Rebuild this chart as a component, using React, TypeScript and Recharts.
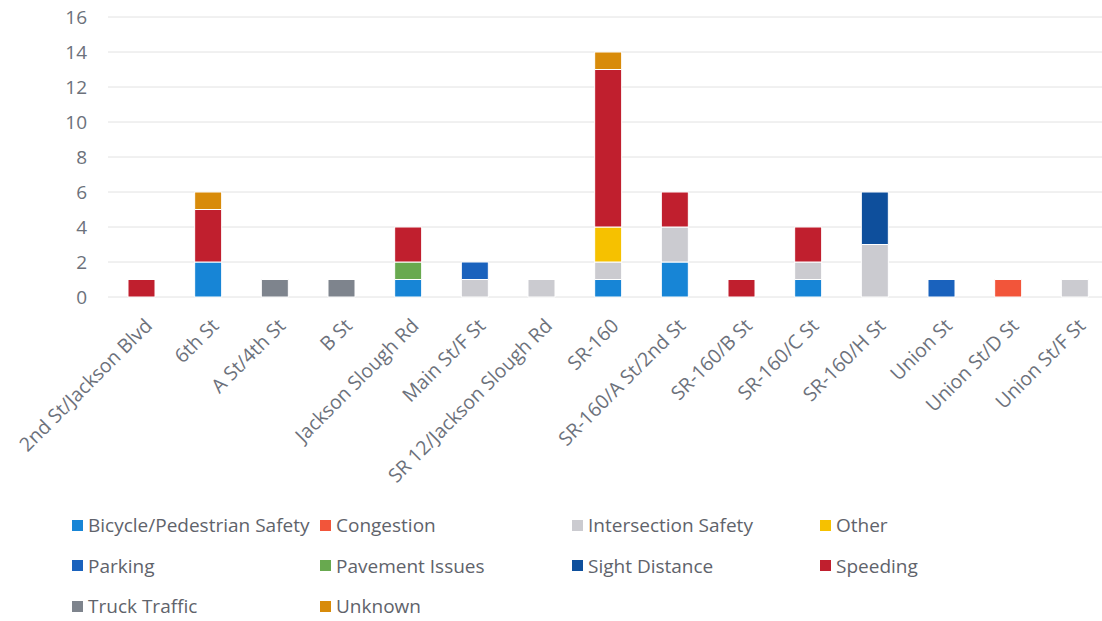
import { BarChart, Bar, XAxis, YAxis, CartesianGrid, Legend } from 'recharts';

const CATEGORIES = [
  '2nd St/Jackson Blvd',
  '6th St',
  'A St/4th St',
  'B St',
  'Jackson Slough Rd',
  'Main St/F St',
  'SR 12/Jackson Slough Rd',
  'SR-160',
  'SR-160/A St/2nd St',
  'SR-160/B St',
  'SR-160/C St',
  'SR-160/H St',
  'Union St',
  'Union St/D St',
  'Union St/F St',
];

const BIKE_PED = [0, 2, 0, 0, 1, 0, 0, 1, 2, 0, 1, 0, 0, 0, 0];
const CONGESTION = [0, 0, 0, 0, 0, 0, 0, 0, 0, 0, 0, 0, 0, 1, 0];
const INTERSECTION = [0, 0, 0, 0, 0, 1, 1, 1, 2, 0, 1, 3, 0, 0, 1];
const OTHER = [0, 0, 0, 0, 0, 0, 0, 2, 0, 0, 0, 0, 0, 0, 0];
const PARKING = [0, 0, 0, 0, 0, 1, 0, 0, 0, 0, 0, 0, 1, 0, 0];
const PAVEMENT = [0, 0, 0, 0, 1, 0, 0, 0, 0, 0, 0, 0, 0, 0, 0];
const SIGHT = [0, 0, 0, 0, 0, 0, 0, 0, 0, 0, 0, 3, 0, 0, 0];
const SPEEDING = [1, 3, 0, 0, 2, 0, 0, 9, 2, 1, 2, 0, 0, 0, 0];
const TRUCK = [0, 0, 1, 1, 0, 0, 0, 0, 0, 0, 0, 0, 0, 0, 0];
const UNKNOWN = [0, 1, 0, 0, 0, 0, 0, 1, 0, 0, 0, 0, 0, 0, 0];

const Y_TICKS = [0, 2, 4, 6, 8, 10, 12, 14, 16];

const SERIES = [
  { key: 'bike', name: 'Bicycle/Pedestrian Safety', values: BIKE_PED, color: '#1785d6' },
  { key: 'congestion', name: 'Congestion', values: CONGESTION, color: '#f2553a' },
  { key: 'intersection', name: 'Intersection Safety', values: INTERSECTION, color: '#cbcbd0' },
  { key: 'other', name: 'Other', values: OTHER, color: '#f6c100' },
  { key: 'parking', name: 'Parking', values: PARKING, color: '#1a62bd' },
  { key: 'pavement', name: 'Pavement Issues', values: PAVEMENT, color: '#68a94f' },
  { key: 'sight', name: 'Sight Distance', values: SIGHT, color: '#0e4f9c' },
  { key: 'speeding', name: 'Speeding', values: SPEEDING, color: '#c01f2e' },
  { key: 'truck', name: 'Truck Traffic', values: TRUCK, color: '#7e848d' },
  { key: 'unknown', name: 'Unknown', values: UNKNOWN, color: '#d88b0a' },
];

const data = CATEGORIES.map((name, i) => {
  const row: Record<string, string | number> = { name };
  SERIES.forEach((s) => {
    row[s.key] = s.values[i];
  });
  return row;
});

const FONT = '"Open Sans", sans-serif';

function XTick({ x, y, payload }: { x: number; y: number; payload: { value: string } }) {
  return (
    <g transform={`translate(${x + 12},${y + 30})`}>
      <text textAnchor="end" transform="rotate(-45)" fontSize={19.5} fill="#6c717b" fontFamily={FONT}>
        {payload.value}
      </text>
    </g>
  );
}

// legend: 4 columns (x of the square), rows ~40.5px apart
const LEGEND_COLS = [72, 320, 572, 820];
const LEGEND_ROW_H = 40.5;

function LegendBox() {
  return (
    <div style={{ position: 'relative', width: 1000, height: 125, fontFamily: FONT }}>
      {SERIES.map((s, i) => (
        <div
          key={s.key}
          style={{
            position: 'absolute',
            left: LEGEND_COLS[i % 4],
            top: Math.floor(i / 4) * LEGEND_ROW_H,
            height: LEGEND_ROW_H,
            display: 'flex',
            alignItems: 'center',
            fontSize: 19,
            color: '#5f636b',
            whiteSpace: 'nowrap',
          }}
        >
          <span style={{ width: 11, height: 11, background: s.color, marginRight: 5, display: 'inline-block' }} />
          {s.name}
        </div>
      ))}
    </div>
  );
}

export default function App() {
  return (
    <div style={{ position: 'absolute', left: 0, top: 0, width: 1102, height: 621, overflow: 'hidden', background: '#fff' }}>
      <BarChart width={1110} height={621} data={data} margin={{ top: 17, right: 2, bottom: 124, left: 0 }} barSize={27}>
        <CartesianGrid vertical={false} stroke="#e2e2e2" />
        <XAxis
          dataKey="name"
          interval={0}
          height={200}
          axisLine={false}
          tickLine={false}
          tickSize={0}
          tickMargin={0}
          tick={XTick as never}
        />
        <YAxis
          width={108}
          domain={[0, 16]}
          ticks={Y_TICKS}
          axisLine={false}
          tickLine={false}
          tickSize={0}
          tickMargin={21}
          tick={{ fontSize: 19, fill: '#6c717b', fontFamily: FONT }}
        />
        <Legend
          layout="horizontal"
          verticalAlign="middle"
          align="center"
          wrapperStyle={{ position: 'absolute', left: 0, top: 505, width: 1000 }}
          content={() => <LegendBox />}
        />
        {SERIES.map((s) => (
          <Bar
            key={s.key}
            dataKey={s.key}
            name={s.name}
            stackId="a"
            fill={s.color}
            stroke="#fff"
            strokeWidth={1}
            isAnimationActive={false}
          />
        ))}
      </BarChart>
    </div>
  );
}
